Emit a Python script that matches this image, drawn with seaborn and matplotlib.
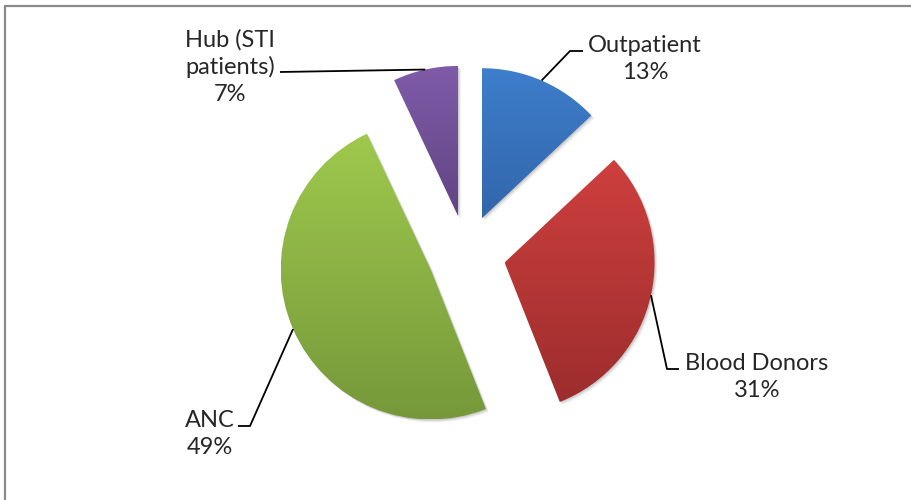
import numpy as np
import matplotlib
matplotlib.use("Agg")
import matplotlib.pyplot as plt
import seaborn as sns
from matplotlib.colors import LinearSegmentedColormap
from matplotlib.patches import Wedge

sns.set_style("white")
plt.rcParams['font.family'] = ['Lato', 'DejaVu Sans']

# ---- data ----
categories = ["Outpatient", "Blood Donors", "ANC", "Hub (STI\npatients)"]
values = [13, 31, 49, 7]
top_colors = ["#3e7ecb", "#cd403e", "#9ec94d", "#805ba9"]
bottom_colors = ["#3266ab", "#9d2d2d", "#76983a", "#614583"]

# ---- layout (pixel space) ----
W, H = 912, 500
fig = plt.figure(figsize=(W / 100, H / 100), dpi=100)
ax = fig.add_axes([0, 0, 1, 1])
ax.set_xlim(0, W)
ax.set_ylim(0, H)
ax.axis("off")

cx, cy, R = 466.5, 246, 150
EXPL = 39  # explode offset in data (pixel) units
wedges, _ = ax.pie(values, startangle=90, counterclock=False,
                   explode=[EXPL] * len(values), center=(cx, cy), radius=R,
                   wedgeprops=dict(linewidth=0), frame=True)

# shadows + gradient fills
for w, c0, c1 in zip(wedges, top_colors, bottom_colors):
    w.set_facecolor("none")
    w.set_edgecolor("none")
    ext = w.get_path().get_extents()
    cmap = LinearSegmentedColormap.from_list("g", [c1, c0])
    grad = np.linspace(0, 1, 256).reshape(-1, 1)
    im = ax.imshow(grad, cmap=cmap, origin="lower", aspect="auto",
                   extent=[ext.x0, ext.x1, ext.y0, ext.y1], zorder=2,
                   interpolation="bilinear")
    im.set_clip_path(w)
    for k, a in [(3, 0.05), (2, 0.07), (1, 0.09)]:
        sh = Wedge((w.center[0] + k, w.center[1] - k), w.r, w.theta1, w.theta2,
                   facecolor="black", alpha=a, linewidth=0, zorder=1)
        ax.add_patch(sh)

ax.set_xlim(0, W)
ax.set_ylim(0, H)
ax.set_aspect("equal")
ax.axis("off")

# leader lines + labels (anchor on arc at each slice's mid angle)
label_layout = [
    # (elbow, line end, text xy)
    ((570, 449), (583, 449), (645, 441)),
    ((667, 131), (679, 131), (757, 123)),
    ((250, 74), (238, 74), (210, 66)),
    ((None, None), (280, 428), (230, 433)),
]
fs = 17
for w, cat, v, (elbow, end, txy) in zip(wedges, categories, values, label_layout):
    mid = np.deg2rad((w.theta1 + w.theta2) / 2)
    ax_ = w.center[0] + w.r * np.cos(mid)
    ay_ = w.center[1] + w.r * np.sin(mid)
    if elbow[0] is None:
        xs, ys = [ax_, end[0]], [ay_, end[1]]
    else:
        xs, ys = [ax_, elbow[0], end[0]], [ay_, elbow[1], end[1]]
    ax.plot(xs, ys, color="black", lw=1.3, zorder=3, solid_capstyle="butt")
    ax.text(txy[0], txy[1], f"{cat}\n{v}%", ha="center", va="center",
            fontsize=fs, color="#262626", linespacing=1.3, zorder=4)

# outer frame of the chart area
ax.plot([5, 5], [0, 494], color="#8a8a8a", lw=1.6, clip_on=False, zorder=5)
ax.plot([5, W], [494, 494], color="#8a8a8a", lw=1.6, clip_on=False, zorder=5)

fig.savefig("out.png", dpi=100)
